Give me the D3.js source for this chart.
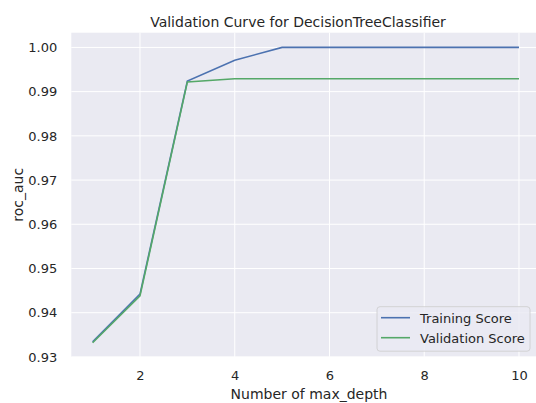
<!DOCTYPE html>
<html><head><meta charset="utf-8">
<script src="https://cdn.jsdelivr.net/npm/d3@7"></script>
<style>body{margin:0;background:#fff}svg{display:block}text{font-family:"DejaVu Sans",sans-serif;fill:#262626}</style>
</head><body><svg id="c" width="536" height="403"></svg>
<script>
const depths = [1,2,3,4,5,6,7,8,9,10];
const trainScores = [0.9334,0.9442,0.9924,0.9971,1.0,1.0,1.0,1.0,1.0,1.0];
const valScores = [0.9332,0.9438,0.9922,0.9929,0.9929,0.9929,0.9929,0.9929,0.9929,0.9929];
const xTicks = [2,4,6,8,10];
const yTicks = [0.93,0.94,0.95,0.96,0.97,0.98,0.99,1.00];
const seriesNames = ["Training Score","Validation Score"];
const colors = ["#4C72B0","#55A868"];

const svg = d3.select("#c");
const L=71.3, R=540.3, T=32.7, B=356.9;
const x = d3.scaleLinear().domain([0.55,10.45]).range([L,R]);
const y = d3.scaleLinear().domain([0.93,1.00333]).range([B,T]);

svg.append("rect").attr("x",L).attr("y",T).attr("width",R-L).attr("height",B-T).attr("fill","#EAEAF2");
const g = svg.append("g");
g.selectAll(".gx").data(xTicks).enter().append("line")
 .attr("x1",d=>x(d)).attr("x2",d=>x(d)).attr("y1",T).attr("y2",B).attr("stroke","#fff").attr("stroke-width",1);
g.selectAll(".gy").data(yTicks).enter().append("line")
 .attr("x1",L).attr("x2",R).attr("y1",d=>y(d)).attr("y2",d=>y(d)).attr("stroke","#fff").attr("stroke-width",1);

const xAxis = svg.append("g").attr("transform",`translate(0,${B})`)
 .call(d3.axisBottom(x).tickValues(xTicks).tickSize(0).tickPadding(14).tickFormat(d3.format("d")));
const yAxis = svg.append("g").attr("transform",`translate(${L},0)`)
 .call(d3.axisLeft(y).tickValues(yTicks).tickSize(0).tickPadding(14).tickFormat(d3.format(".2f")));
[xAxis,yAxis].forEach(a=>{a.select(".domain").remove();a.selectAll("text").attr("font-size",13).attr("fill","#262626").style("font-family","DejaVu Sans");});

const line = d3.line().x((d,i)=>x(depths[i])).y(d=>y(d));
[trainScores,valScores].forEach((s,i)=>{
 svg.append("path").datum(s).attr("d",line).attr("fill","none").attr("stroke",colors[i]).attr("stroke-width",1.6);
});

svg.append("text").attr("x",298).attr("y",26.5).attr("text-anchor","middle").attr("font-size",14).text("Validation Curve for DecisionTreeClassifier");
svg.append("text").attr("x",309).attr("y",399).attr("text-anchor","middle").attr("font-size",14).text("Number of max_depth");
svg.append("text").attr("transform","translate(23,194.8) rotate(-90)").attr("text-anchor","middle").attr("font-size",14).text("roc_auc");

const lg = svg.append("g");
lg.append("rect").attr("x",377).attr("y",306.7).attr("width",153).attr("height",44.5).attr("rx",3)
 .attr("fill","#EAEAF2").attr("fill-opacity",0.8).attr("stroke","#CCCCCC").attr("stroke-width",0.8);
seriesNames.forEach((n,i)=>{
 const yy = 317.7 + i*20;
 lg.append("line").attr("x1",381).attr("x2",410).attr("y1",yy).attr("y2",yy).attr("stroke",colors[i]).attr("stroke-width",1.6);
 lg.append("text").attr("x",420).attr("y",yy+5.5).attr("font-size",13).text(n);
});
</script></body></html>
